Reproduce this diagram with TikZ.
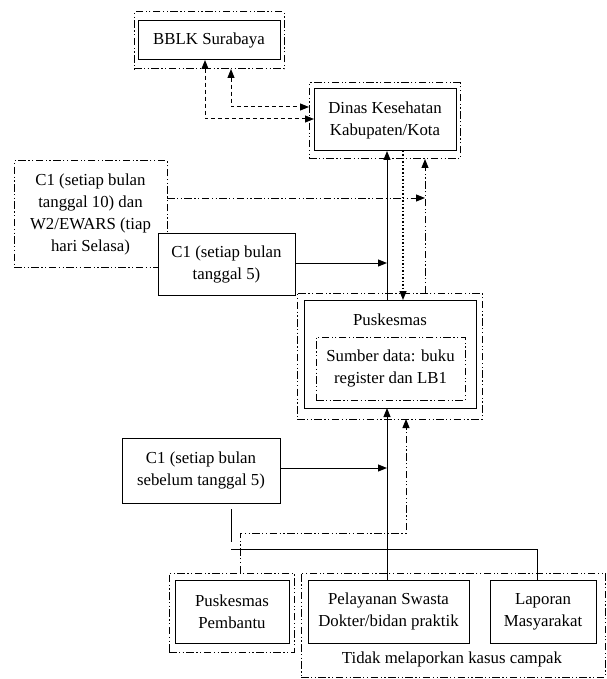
\documentclass[tikz,border=0pt]{standalone}
\usepackage{fontspec}
\setmainfont{Liberation Serif}
\usetikzlibrary{arrows.meta}
\begin{document}
\begin{tikzpicture}[x=1pt,y=-1pt,
  every node/.style={font=\fontsize{16.8pt}{22pt}\selectfont, inner sep=0pt, outer sep=0pt, align=center},
  sbox/.style={draw, line width=1pt, fill=white, minimum width=#1},
  ddpat/.style={line width=1pt, dash pattern=on 7.5pt off 2.5pt on 1.2pt off 2.5pt on 1.2pt off 2.5pt},
  ddbox/.style={draw, ddpat},
  dshline/.style={line width=1pt, dash pattern=on 4pt off 3pt},
  dotline/.style={line width=1.5pt, dash pattern=on 1.5pt off 2pt},
  solidline/.style={line width=1pt},
  tip/.style={-{Triangle[length=9pt,width=7pt]}},
  bitip/.style={{Triangle[length=9pt,width=7pt]}-{Triangle[length=9pt,width=7pt]}}
]
\useasboundingbox (0,0) rectangle (606,679);

% outer dash-dot frames
\node[ddbox, minimum width=150pt, minimum height=57pt] (bblkO) at (209,40.5) {};
\node[ddbox, minimum width=151pt, minimum height=76pt] (dinO) at (384.5,121) {};
\node[ddbox, minimum width=185pt, minimum height=126pt] (puskO) at (389.5,356) {};
\node[ddbox, minimum width=125pt, minimum height=79pt] (pustuO) at (231.5,612.5) {};
\node[ddbox, minimum width=304pt, minimum height=104pt] (grpO) at (453,625) {};
\node[ddbox, minimum width=153pt, minimum height=106pt] (c10) at (90.5,214)
  {C1 (setiap bulan\\tanggal 10) dan\\W2/EWARS (tiap\\hari Selasa)};

% solid boxes
\node[sbox=142pt, minimum height=39pt] (bblkI) at (209,40.5) {BBLK Surabaya};
\node[sbox=142pt, minimum height=62pt] (dinI) at (385,120) {Dinas Kesehatan\\Kabupaten/Kota};
\node[sbox=137pt, minimum height=62pt] (c5) at (226.5,264) {C1 (setiap bulan\\tanggal 5)};
\node[sbox=172pt, minimum height=108pt] (puskI) at (390,354) {};
\node (pusktxt) at (390,320) {Puskesmas};
\node[ddbox, minimum width=149pt, minimum height=63pt] (sumber) at (390.5,368.5)
  {Sumber data: buku\\register dan LB1};
\node[sbox=158pt, minimum height=65pt] (c1seb) at (201,470.5) {C1 (setiap bulan\\sebelum tanggal 5)};
\node[sbox=114pt, minimum height=63pt] (pustuI) at (232,611.5) {Puskesmas\\Pembantu};
\node[sbox=161pt, minimum height=63pt] (pelI) at (388.5,611.5) {Pelayanan Swasta\\Dokter/bidan praktik};
\node[sbox=106pt, minimum height=63pt] (lapI) at (543,611.5) {Laporan\\Masyarakat};
\node (tidak) at (452,659) {Tidak melaporkan kasus campak};

% reference coordinates
\coordinate (xs) at (387,0);
\coordinate (xd) at (403,0);
\coordinate (xdd) at (425,0);
\coordinate (k1) at (205,119);
\coordinate (k2) at (231,107);
\coordinate (h10) at (0,198);
\coordinate (j1) at (240,533);
\coordinate (j2) at (406,533);
\coordinate (b1) at (231,549);
\coordinate (xl) at (537,549);
\coordinate (s1) at (231,509);
\coordinate (s2) at (231,542);

% BBLK <-> Dinas dashed
\draw[dshline, bitip] (bblkI.south -| k1) -- (k1) -- (k1 -| dinI.west);
\draw[dshline, bitip] (bblkO.south -| k2) -- (k2) -- (k2 -| dinO.west);

% Puskesmas -> Dinas
\draw[solidline, tip] (puskI.north -| xs) -- (dinI.south -| xs);
\draw[dotline, tip] (dinI.south -| xd) -- (puskI.north -| xd);
\draw[ddpat, tip] (puskO.north -| xdd) -- (dinO.south -| xdd);
\draw[ddpat, tip] (c10.east |- h10) -- (xdd |- h10);
\draw[solidline, tip] (c5.east) ++(0,-1) -- (xs |- 0,263);

% lower part
\draw[solidline, tip] (pelI.north -| xs) -- (puskI.south -| xs);
\draw[solidline, tip] (c1seb.east |- 0,468) -- (xs |- 0,468);
\draw[ddpat, tip] (pustuO.north -| j1) -- (j1) -- (j2) -- (j2 |- puskO.south);
\draw[solidline] (b1) -- (xl);
\draw[solidline] (xl) -- (lapI.north -| xl);
\draw[solidline] (s1) -- (s2);
\end{tikzpicture}
\end{document}
